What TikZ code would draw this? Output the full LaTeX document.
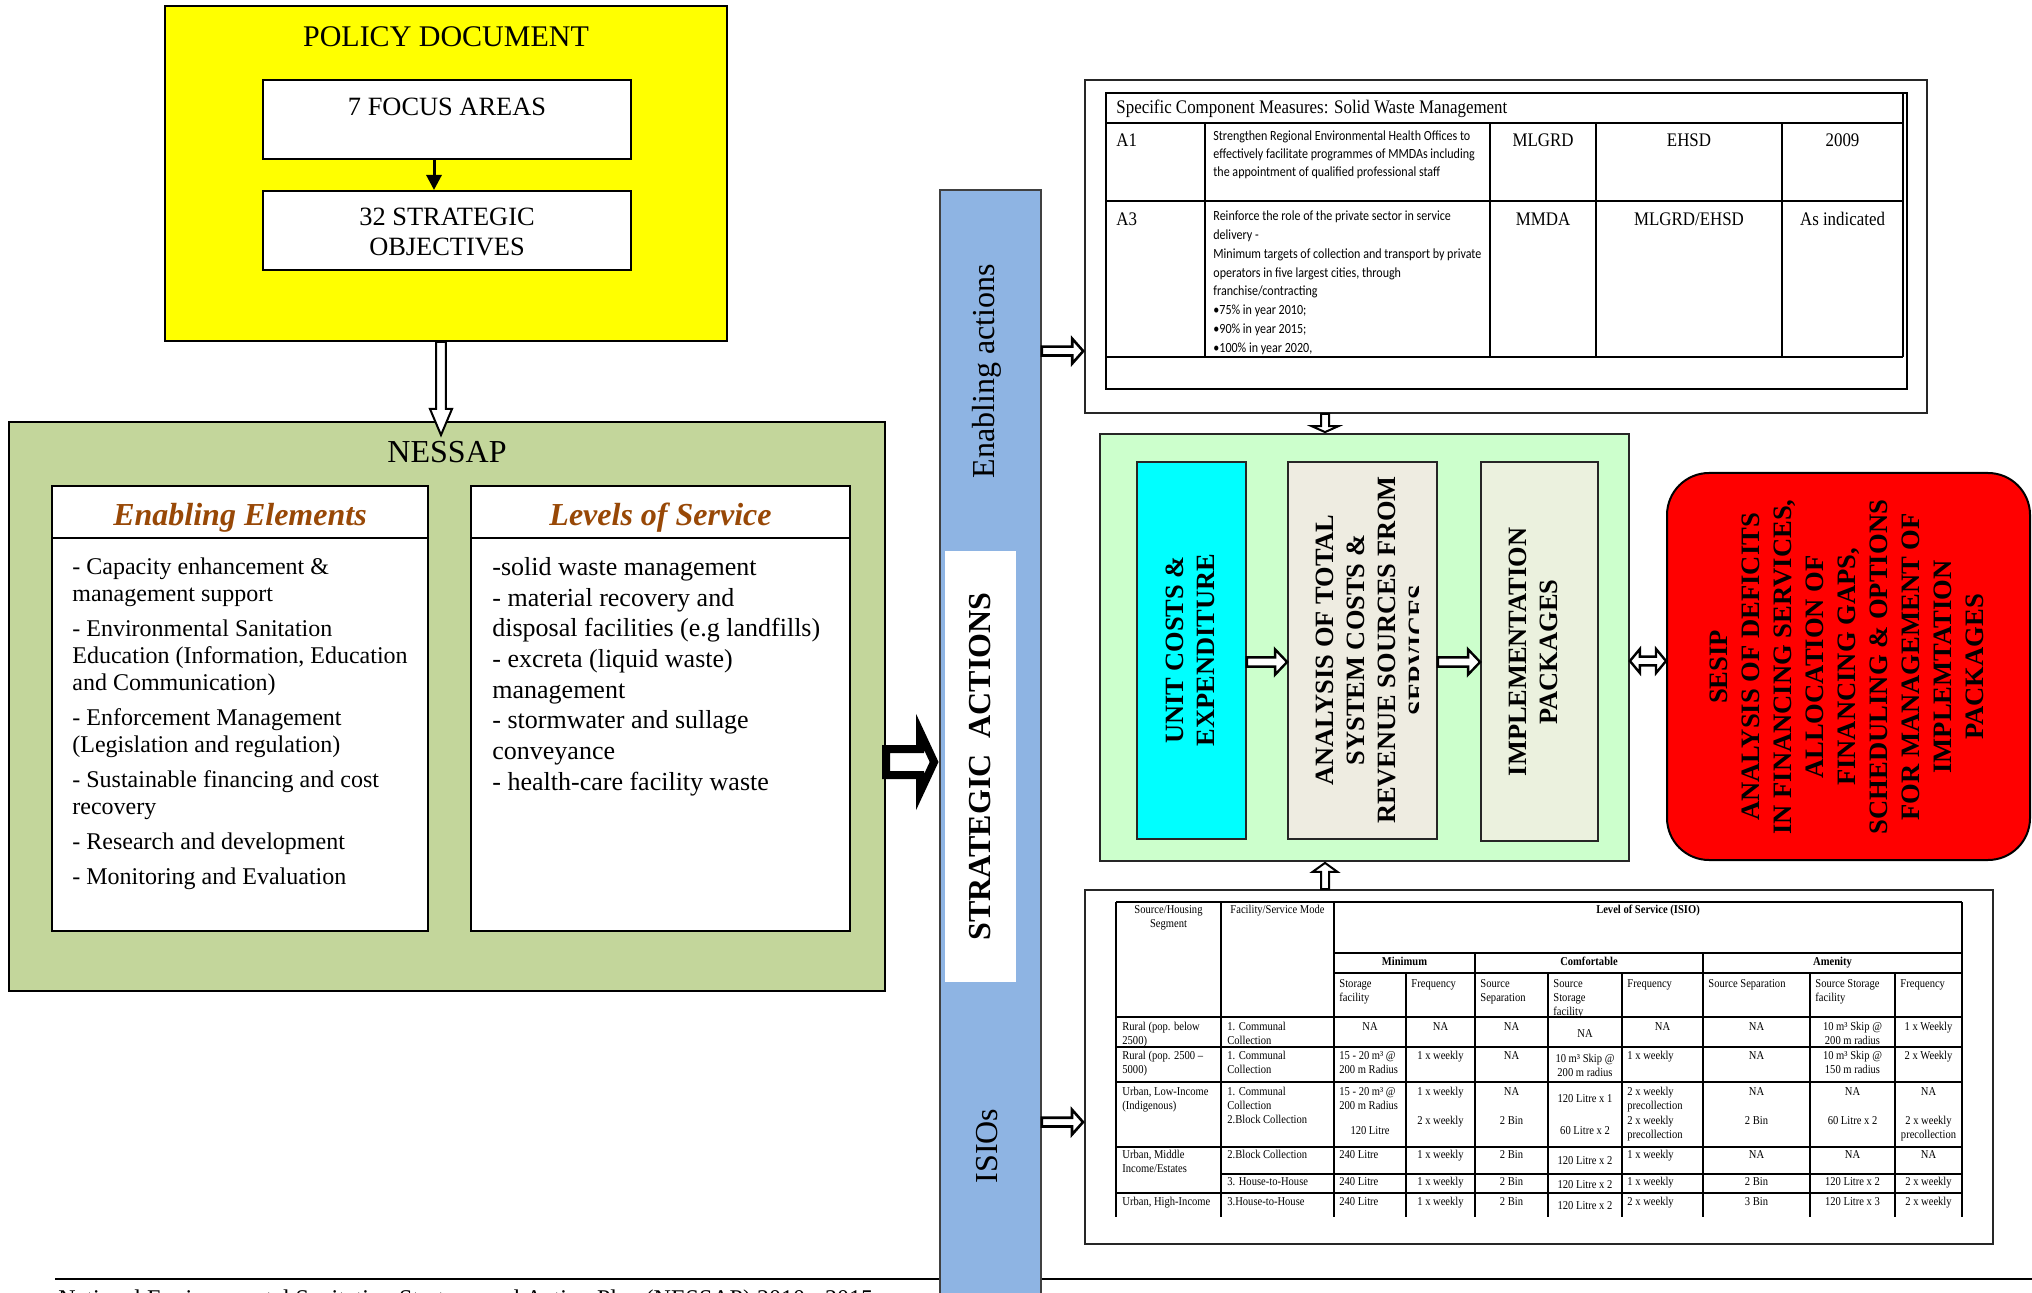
\documentclass[tikz,border=0pt]{standalone}
\usepackage{fontspec}
\setmainfont{Liberation Serif}
\newfontfamily\condserif[FakeStretch=0.88]{Liberation Serif}
\newfontfamily\handsans[FakeStretch=0.86]{Carlito}
\usetikzlibrary{calc,fit,arrows.meta}

\definecolor{policyyellow}{RGB}{255,255,0}
\definecolor{nessapgreen}{RGB}{195,214,155}
\definecolor{barblue}{RGB}{142,180,227}
\definecolor{palegreen}{RGB}{204,255,204}
\definecolor{costcyan}{RGB}{0,255,255}
\definecolor{analysisgrey}{RGB}{238,236,225}
\definecolor{packagegreen}{RGB}{235,241,222}
\definecolor{sesipred}{RGB}{255,0,0}
\definecolor{headbrown}{RGB}{152,72,6}

\tikzset{
  boxframe/.style={draw=black, line width=1pt, inner sep=0pt},
  bodytext/.style={inner sep=0pt, align=left, anchor=north west},
  vtext/.style={inner sep=0pt, align=center, rotate=90,
                font=\fontsize{13.2}{15.5}\selectfont\bfseries},
  spec/.style={inner sep=0pt, font=\condserif\fontsize{9.6}{11}\selectfont},
  hand/.style={inner sep=0pt, align=left, anchor=north west},
  tl/.style={inner sep=0pt, align=left, anchor=north west,
             font=\condserif\fontsize{6}{7}\selectfont},
  tc/.style={inner sep=0pt, align=center, anchor=north,
             font=\condserif\fontsize{6}{7}\selectfont},
  tb/.style={inner sep=0pt, align=center, anchor=north,
             font=\condserif\bfseries\fontsize{6}{7}\selectfont},
  hollow/.style={draw=black, fill=white, line join=miter},
  % block arrows: #1 shaft half width, #2 head half width, #3 head length
  hollowR/.style n args={3}{hollow, to path={let \p1=(\tikztostart), \p2=(\tikztotarget) in
    (\x1,\y1+#1) -- (\x2-#3,\y1+#1) -- (\x2-#3,\y1+#2) -- (\x2,\y1)
    -- (\x2-#3,\y1-#2) -- (\x2-#3,\y1-#1) -- (\x1,\y1-#1) -- cycle}},
  hollowD/.style n args={3}{hollow, to path={let \p1=(\tikztostart), \p2=(\tikztotarget) in
    (\x1+#1,\y1) -- (\x1+#1,\y2+#3) -- (\x1+#2,\y2+#3) -- (\x1,\y2)
    -- (\x1-#2,\y2+#3) -- (\x1-#1,\y2+#3) -- (\x1-#1,\y1) -- cycle}},
  hollowU/.style n args={3}{hollow, to path={let \p1=(\tikztostart), \p2=(\tikztotarget) in
    (\x1+#1,\y1) -- (\x1+#1,\y2-#3) -- (\x1+#2,\y2-#3) -- (\x1,\y2)
    -- (\x1-#2,\y2-#3) -- (\x1-#1,\y2-#3) -- (\x1-#1,\y1) -- cycle}},
  hollowLR/.style n args={3}{hollow, to path={let \p1=(\tikztostart), \p2=(\tikztotarget) in
    (\x1,\y1) -- (\x1+#3,\y1+#2) -- (\x1+#3,\y1+#1) -- (\x2-#3,\y1+#1)
    -- (\x2-#3,\y1+#2) -- (\x2,\y1) -- (\x2-#3,\y1-#2) -- (\x2-#3,\y1-#1)
    -- (\x1+#3,\y1-#1) -- (\x1+#3,\y1-#2) -- cycle}},
}

\begin{document}
\begin{tikzpicture}[x=0.5pt,y=-0.5pt]
\useasboundingbox (0,0) rectangle (2032,1293);
\clip (0,0) rectangle (2032,1293);

% ---------- page rule and running footer ----------
\draw[line width=1.25pt] (55,1279) -- (2032,1279);
\node[anchor=base west, inner sep=0pt, font=\fontsize{12}{14}\selectfont] (footer) at (58,1306)
  {National Environmental Sanitation Strategy and Action Plan (NESSAP) 2010 - 2015};

% ---------- policy document ----------
\node[boxframe, fill=policyyellow, fit={(165,6) (727,341)}] (policy) {};
\node[inner sep=0pt, font=\fontsize{15}{18}\selectfont] (policytitle)
  at ($(policy.north)+(0,32)$) {POLICY DOCUMENT};
\node[boxframe, fill=white, fit={(263,80) (631,159)}] (focus) {};
\node[inner sep=0pt, font=\fontsize{13.2}{15}\selectfont] (focustxt)
  at ($(focus.north)+(0,27.5)$) {7 FOCUS AREAS};
\node[boxframe, fill=white, fit={(263,191) (631,270)}] (obj) {};
\node[inner sep=0pt, align=center, font=\fontsize{13.2}{15}\selectfont] (objtxt)
  at ($(obj.center)+(0,1)$) {32 STRATEGIC\\OBJECTIVES};
\draw[line width=1.5pt, -{Triangle[length=7.5pt,width=7.5pt]}]
  ($(focus.south)+(-13,0)$) -- ($(obj.north)+(-13,0)$);

% ---------- NESSAP ----------
\node[boxframe, fill=nessapgreen, fit={(9,422) (885,991)}] (nessap) {};
\node[inner sep=0pt, font=\fontsize{16}{19}\selectfont] (nessaptitle)
  at ($(nessap.north)+(0,31)$) {NESSAP};
\node[boxframe, fill=white, fit={(52,486) (428,931)}] (enab) {};
\node[boxframe, fill=white, fit={(471,486) (850,931)}] (levels) {};
\draw[line width=1pt] ($(enab.north west)+(0,53)$) -- ($(enab.north east)+(0,53)$);
\draw[line width=1pt] ($(levels.north west)+(0,53)$) -- ($(levels.north east)+(0,53)$);
\node[inner sep=0pt, text=headbrown, font=\fontsize{16}{19}\selectfont\bfseries\itshape]
  (enabhead) at ($(enab.north)+(0,33)$) {Enabling Elements};
\node[inner sep=0pt, text=headbrown, font=\fontsize{16}{19}\selectfont\bfseries\itshape]
  (levelshead) at ($(levels.north)+(0,33)$) {Levels of Service};
\node[bodytext, font=\fontsize{12}{13.5}\selectfont] (enabbody) at (72,557)
  {- Capacity enhancement \&\\management support\\[4pt]%
   - Environmental Sanitation\\Education (Information, Education\\and Communication)\\[4pt]%
   - Enforcement Management\\(Legislation and regulation)\\[4pt]%
   - Sustainable financing and cost\\recovery\\[4pt]%
   - Research and development\\[4pt]%
   - Monitoring and Evaluation};
\node[bodytext, font=\fontsize{13}{15.35}\selectfont] (levelsbody) at (492,557)
  {-solid waste management\\- material recovery and\\disposal facilities (e.g landfills)\\%
   - excreta (liquid waste)\\management\\- stormwater and sullage\\conveyance\\%
   - health-care facility waste};

% ---------- strategic actions bar ----------
\node[draw=black!75, line width=0.9pt, fill=barblue, inner sep=0pt,
      fit={(940,190) (1041,1305)}] (bar) {};
\node[fill=white, inner sep=0pt, fit={(945,551) (1016,982)}] (barwhite) {};
\node[rotate=90, inner sep=0pt, font=\fontsize{16}{19}\selectfont] (enabact)
  at (987,371) {Enabling actions};
\node[rotate=90, inner sep=0pt, font=\fontsize{16}{19}\selectfont\bfseries] (stratact)
  at (barwhite.center) {STRATEGIC\ \ ACTIONS};
\node[rotate=90, inner sep=0pt, font=\fontsize{16}{19}\selectfont] (isios)
  at (987,1146) {ISIOs};

% ---------- specific component measures ----------
\node[draw=black!85, line width=0.8pt, inner sep=0pt, fit={(1085,80) (1927,413)}] (topframe) {};
\node[draw=black, line width=1.1pt, inner sep=0pt, fit={(1106,93) (1907,389)}] (spectab) {};
\draw[line width=1.1pt] (1106,123) -- (1903,123) (1106,201) -- (1903,201) (1106,357) -- (1903,357);
\draw[line width=1pt] (1903,93) -- (1903,357);
\foreach \cx in {1205,1490,1596,1782} \draw[line width=0.6pt] (\cx,123) -- (\cx,357);
\node[spec, anchor=west] (spectitle) at (1116,109) {Specific Component Measures: Solid Waste Management};
\node[spec, anchor=north west] (a1) at (1116,133) {A1};
\node[hand, font=\handsans\fontsize{7}{9}\selectfont] (a1desc) at (1213,130.5)
  {Strengthen Regional Environmental Health Offices to\\effectively facilitate programmes of MMDAs including\\the appointment of qualified professional staff};
\node[spec, anchor=north] (a1lead) at (1543,133) {MLGRD};
\node[spec, anchor=north] (a1supp) at (1689,133) {EHSD};
\node[spec, anchor=north] (a1date) at (1842.5,133) {2009};
\node[spec, anchor=north west] (a3) at (1116,212) {A3};
\node[hand, font=\handsans\fontsize{7}{9.4}\selectfont] (a3desc) at (1213,210.5)
  {Reinforce the role of the private sector in service\\delivery -\\Minimum targets of collection and transport by private\\operators in five largest cities, through\\franchise/contracting\\•75\% in year 2010;\\•90\% in year 2015;\\•100\% in year 2020,};
\node[spec, anchor=north] (a3lead) at (1543,212) {MMDA};
\node[spec, anchor=north] (a3supp) at (1689,212) {MLGRD/EHSD};
\node[spec, anchor=north] (a3date) at (1842.5,212) {As indicated};

% ---------- costing chain ----------
\node[draw=black!85, line width=0.9pt, fill=palegreen, inner sep=0pt, fit={(1100,434) (1629,861)}] (green) {};
\node[draw=black!85, line width=0.9pt, fill=costcyan, inner sep=0pt, fit={(1137,462) (1246,839)}] (cyan) {};
\node[draw=black!85, line width=0.9pt, fill=analysisgrey, inner sep=0pt, fit={(1288,462) (1437,839)}] (analysis) {};
\node[draw=black!85, line width=0.9pt, fill=packagegreen, inner sep=0pt, fit={(1481,462) (1598,841)}] (impl) {};
\node[vtext] (costtxt) at (1190.5,650) {UNIT COSTS \&\\EXPENDITURE};
\begin{scope}
  \clip (1288,462) rectangle (1418,839);
  \node[vtext] (anatxt) at (1371.5,650) {ANALYSIS OF TOTAL\\SYSTEM COSTS \&\\REVENUE SOURCES FROM\\SERVICES};
\end{scope}
\node[vtext] (impltxt) at (1533.5,652) {IMPLEMENTATION\\PACKAGES};

\node[draw=black, line width=1pt, fill=sesipred, rounded corners=21pt, inner sep=0pt,
      fit={(1667,473) (2030,860)}] (red) {};
\node[vtext, font=\fontsize{13.3}{16}\selectfont\bfseries] (sesiptxt) at (1847,667)
  {SESIP\\ANALYSIS OF DEFICITS\\IN FINANCING SERVICES,\\ALLOCATION OF\\FINANCING GAPS,\\SCHEDULING \& OPTIONS\\FOR MANAGEMENT OF\\IMPLEMTATION\\PACKAGES};

% ---------- levels of service table ----------
\node[draw=black!85, line width=1pt, inner sep=0pt, fit={(1085,890) (1993,1244)}] (botframe) {};
\draw[line width=1.1pt]
  (1116,902) -- (1962,902)
  (1334,953) -- (1962,953)
  (1334,973) -- (1962,973)
  (1116,1017) -- (1962,1017)
  (1116,1047) -- (1962,1047)
  (1116,1082) -- (1962,1082)
  (1116,1147) -- (1962,1147)
  (1221,1174) -- (1962,1174)
  (1116,1193) -- (1962,1193);
\foreach \cx in {1116,1221,1334,1962} \draw[line width=0.6pt] (\cx,902) -- (\cx,1217);
\foreach \cx in {1475,1703} \draw[line width=0.6pt] (\cx,953) -- (\cx,1217);
\foreach \cx in {1406,1548,1622,1810,1895} \draw[line width=0.6pt] (\cx,973) -- (\cx,1217);

% header
\node[tc] (h-seg) at (1168.5,905) {Source/Housing\\Segment};
\node[tc] (h-mode) at (1277.5,905) {Facility/Service Mode};
\node[tb] (h-los) at (1648,905) {Level of Service (ISIO)};
\node[tb] (h-min) at (1404.5,957) {Minimum};
\node[tb] (h-com) at (1589,957) {Comfortable};
\node[tb] (h-ame) at (1832.5,957) {Amenity};
\node[tl] (h-c2) at (1339,979) {Storage\\facility};
\node[tl] (h-c3) at (1411,979) {Frequency};
\node[tl] (h-c4) at (1480,979) {Source\\Separation};
\node[tl] (h-c5) at (1553,979) {Source\\Storage\\facility};
\node[tl] (h-c6) at (1627,979) {Frequency};
\node[tl] (h-c7) at (1708,979) {Source Separation};
\node[tl] (h-c8) at (1815,979) {Source Storage\\facility};
\node[tl] (h-c9) at (1900,979) {Frequency};

% rural, below 2500
\node[tl] (r1-c0) at (1122,1022) {Rural (pop. below\\2500)};
\node[tl] (r1-c1) at (1227,1022) {1. Communal\\Collection};
\node[tc] (r1-c2) at (1370,1022) {NA};
\node[tc] (r1-c3) at (1440.5,1022) {NA};
\node[tc] (r1-c4) at (1511.5,1022) {NA};
\node[tc] (r1-c5) at (1585,1029) {NA};
\node[tc] (r1-c6) at (1662.5,1022) {NA};
\node[tc] (r1-c7) at (1756.5,1022) {NA};
\node[tc] (r1-c8) at (1852.5,1022) {10 m³ Skip @\\200 m radius};
\node[tc] (r1-c9) at (1928.5,1022) {1 x Weekly};

% rural, 2500-5000
\node[tl] (r2-c0) at (1122,1051) {Rural (pop. 2500 –\\5000)};
\node[tl] (r2-c1) at (1227,1051) {1. Communal\\Collection};
\node[tl] (r2-c2) at (1339,1051) {15 - 20 m³ @\\200 m Radius};
\node[tc] (r2-c3) at (1440.5,1051) {1 x weekly};
\node[tc] (r2-c4) at (1511.5,1051) {NA};
\node[tc] (r2-c5) at (1585,1054) {10 m³ Skip @\\200 m radius};
\node[tl] (r2-c6) at (1627,1051) {1 x weekly};
\node[tc] (r2-c7) at (1756.5,1051) {NA};
\node[tc] (r2-c8) at (1852.5,1051) {10 m³ Skip @\\150 m radius};
\node[tc] (r2-c9) at (1928.5,1051) {2 x Weekly};

% urban, low income
\node[tl] (r3-c0) at (1122,1087) {Urban, Low-Income\\(Indigenous)};
\node[tl] (r3-c1) at (1227,1087) {1. Communal\\Collection\\2.Block Collection};
\node[tl] (r3-c2) at (1339,1087) {15 - 20 m³ @\\200 m Radius};
\node[tc] (r3-c2b) at (1370,1126) {120 Litre};
\node[tc] (r3-c3) at (1440.5,1087) {1 x weekly};
\node[tc] (r3-c3b) at (1440.5,1116) {2 x weekly};
\node[tc] (r3-c4) at (1511.5,1087) {NA};
\node[tc] (r3-c4b) at (1511.5,1116) {2 Bin};
\node[tc] (r3-c5) at (1585,1094) {120 Litre x 1};
\node[tc] (r3-c5b) at (1585,1126) {60 Litre x 2};
\node[tl] (r3-c6) at (1627,1087) {2 x weekly\\precollection};
\node[tl] (r3-c6b) at (1627,1116) {2 x weekly\\precollection};
\node[tc] (r3-c7) at (1756.5,1087) {NA};
\node[tc] (r3-c7b) at (1756.5,1116) {2 Bin};
\node[tc] (r3-c8) at (1852.5,1087) {NA};
\node[tc] (r3-c8b) at (1852.5,1116) {60 Litre x 2};
\node[tc] (r3-c9) at (1928.5,1087) {NA};
\node[tc] (r3-c9b) at (1928.5,1116) {2 x weekly\\precollection};

% urban, middle income
\node[tl] (r4-c0) at (1122,1150) {Urban, Middle\\Income/Estates};
\node[tl] (r4-c1) at (1227,1150) {2.Block Collection};
\node[tl] (r4-c2) at (1339,1150) {240 Litre};
\node[tc] (r4-c3) at (1440.5,1150) {1 x weekly};
\node[tc] (r4-c4) at (1511.5,1150) {2 Bin};
\node[tc] (r4-c5) at (1585,1156) {120 Litre x 2};
\node[tl] (r4-c6) at (1627,1150) {1 x weekly};
\node[tc] (r4-c7) at (1756.5,1150) {NA};
\node[tc] (r4-c8) at (1852.5,1150) {NA};
\node[tc] (r4-c9) at (1928.5,1150) {NA};
\node[tl] (r4b-c1) at (1227,1177) {3. House-to-House};
\node[tl] (r4b-c2) at (1339,1177) {240 Litre};
\node[tc] (r4b-c3) at (1440.5,1177) {1 x weekly};
\node[tc] (r4b-c4) at (1511.5,1177) {2 Bin};
\node[tc] (r4b-c5) at (1585,1180) {120 Litre x 2};
\node[tl] (r4b-c6) at (1627,1177) {1 x weekly};
\node[tc] (r4b-c7) at (1756.5,1177) {2 Bin};
\node[tc] (r4b-c8) at (1852.5,1177) {120 Litre x 2};
\node[tc] (r4b-c9) at (1928.5,1177) {2 x weekly};

% urban, high income
\node[tl] (r5-c0) at (1122,1197) {Urban, High-Income};
\node[tl] (r5-c1) at (1227,1197) {3.House-to-House};
\node[tl] (r5-c2) at (1339,1197) {240 Litre};
\node[tc] (r5-c3) at (1440.5,1197) {1 x weekly};
\node[tc] (r5-c4) at (1511.5,1197) {2 Bin};
\node[tc] (r5-c5) at (1585,1201) {120 Litre x 2};
\node[tl] (r5-c6) at (1627,1197) {2 x weekly};
\node[tc] (r5-c7) at (1756.5,1197) {3 Bin};
\node[tc] (r5-c8) at (1852.5,1197) {120 Litre x 3};
\node[tc] (r5-c9) at (1928.5,1197) {2 x weekly};

% ---------- connectors ----------
\coordinate (pol-out) at ($(policy.south)+(-5,0)$);
\coordinate (nes-in) at ($(nessap.north)+(-6,14)$);
\draw[hollowD={2.4pt}{5.5pt}{13pt}, line width=1pt] (pol-out) to (nes-in);

\coordinate (nes-out) at ($(nessap.north east)+(0,341)$);
\coordinate (bar-in) at ($(bar.north west)+(-5,573)$);
\draw[hollowR={6.5pt}{15pt}{7pt}, line width=4pt] (nes-out) to (bar-in);

\coordinate (bar-top) at ($(bar.north east)+(0,162)$);
\coordinate (spec-in) at ($(topframe.north west)+(-1,272)$);
\draw[hollowR={2.2pt}{6.2pt}{5.5pt}, line width=1.3pt] (bar-top) to (spec-in);

\coordinate (bar-low) at ($(bar.north east)+(0,933)$);
\coordinate (isio-in) at ($(botframe.north west)+(-1,233)$);
\draw[hollowR={2.2pt}{6.2pt}{5.5pt}, line width=1.3pt] (bar-low) to (isio-in);

\coordinate (spec-out) at ($(topframe.south)+(-181,0)$);
\coordinate (green-top) at ($(green.north)+(-39.5,-1)$);
\draw[hollowD={2pt}{6.75pt}{3pt}, line width=1pt] (spec-out) to (green-top);

\coordinate (isio-out) at ($(botframe.north)+(-214,0)$);
\coordinate (green-bot) at ($(green.south)+(-39.5,1)$);
\draw[hollowU={2pt}{6.25pt}{4.5pt}, line width=1pt] (isio-out) to (green-bot);

\coordinate (cyan-out) at ($(cyan.east)+(0,11.5)$);
\coordinate (ana-in) at ($(analysis.west)+(0,11.5)$);
\draw[hollowR={2.3pt}{6.3pt}{6pt}, line width=1.2pt] (cyan-out) to (ana-in);

\coordinate (ana-out) at ($(analysis.east)+(0,11.5)$);
\coordinate (impl-in) at ($(impl.west)+(0,10.5)$);
\draw[hollowR={2.3pt}{6.3pt}{6pt}, line width=1.2pt] (ana-out) to (impl-in);

\coordinate (green-right) at ($(green.east)+(0,13.5)$);
\coordinate (red-left) at ($(red.west)+(0,-5.5)$);
\draw[hollowLR={2.2pt}{6pt}{5pt}, line width=1.2pt] (green-right) to (red-left);

\end{tikzpicture}
\end{document}
